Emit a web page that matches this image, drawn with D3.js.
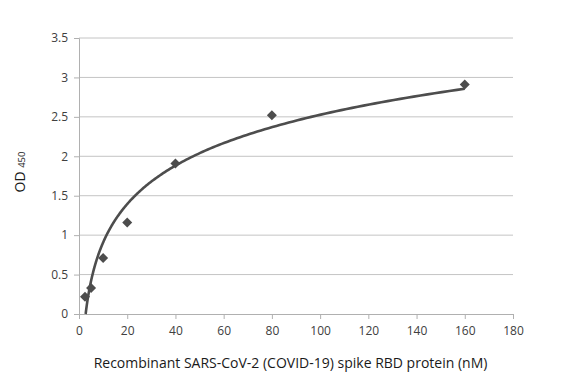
<!DOCTYPE html>
<html>
<head>
<meta charset="utf-8">
<script src="https://cdn.jsdelivr.net/npm/d3@7"></script>
<style>
  body { margin: 0; background: #fff; }
  text { font-family: "Open Sans", sans-serif; }
</style>
</head>
<body>
<svg id="canvas"></svg>
<script>
// concentrations (nM) and OD450 readings
let conc = [2.5, 5, 10, 20, 40, 80, 160]
let od = [0.22, 0.33, 0.71, 1.16, 1.91, 2.52, 2.91]

let xTicks = [0, 20, 40, 60, 80, 100, 120, 140, 160, 180]
let yTicks = [0, 0.5, 1, 1.5, 2, 2.5, 3, 3.5]

let width = 582
let height = 382
let plotLeft = 79, plotRight = 513, plotTop = 38, plotBottom = 314

let svg = d3.select('#canvas').attr('width', width).attr('height', height)

let xScale = d3.scaleLinear().domain([0, 180]).range([plotLeft, plotRight])
let yScale = d3.scaleLinear().domain([0, 3.5]).range([plotBottom, plotTop])

// horizontal gridlines
svg.append('g')
   .selectAll('line')
   .data(yTicks.slice(1))
   .enter()
   .append('line')
   .attr('x1', plotLeft).attr('x2', plotRight)
   .attr('y1', d => yScale(d)).attr('y2', d => yScale(d))
   .attr('stroke', '#c4c4c4').attr('stroke-width', 1)

let xAxis = d3.axisBottom(xScale).tickValues(xTicks).tickSize(5).tickPadding(7).tickFormat(d3.format('d'))
let yAxis = d3.axisLeft(yScale).tickValues(yTicks).tickSize(5).tickPadding(6).tickFormat(d => d)

let gx = svg.append('g').attr('transform', 'translate(0,' + plotBottom + ')').call(xAxis)
let gy = svg.append('g').attr('transform', 'translate(' + plotLeft + ',0)').call(yAxis)

;[gx, gy].forEach(g => {
  g.select('.domain').attr('stroke', '#b0b0b0')
  g.selectAll('.tick line').attr('stroke', '#b0b0b0')
  g.selectAll('.tick text').attr('fill', '#404040').style('font-size', '12px')
})

// logarithmic trendline fitted to the points (least squares on ln x)
let lx = conc.map(Math.log)
let mx = d3.mean(lx), my = d3.mean(od)
let a = d3.sum(lx, (v, i) => (v - mx) * (od[i] - my)) / d3.sum(lx, v => (v - mx) * (v - mx))
let b = my - a * mx
let xStart = Math.max(conc[0], Math.exp(-b / a))
let curve = d3.range(0, 201).map(i => {
  let x = xStart * Math.pow(conc[conc.length - 1] / xStart, i / 200)
  return [x, a * Math.log(x) + b]
})

svg.append('path')
   .datum(curve)
   .attr('d', d3.line().x(d => xScale(d[0])).y(d => yScale(d[1])))
   .attr('fill', 'none')
   .attr('stroke', '#4d4d4d')
   .attr('stroke-width', 2.6)

// diamond markers
svg.append('g')
   .selectAll('path')
   .data(conc)
   .enter()
   .append('path')
   .attr('d', d3.symbol().type(d3.symbolSquare).size(50))
   .attr('transform', (d, i) => 'translate(' + xScale(d) + ',' + yScale(od[i]) + ') rotate(45)')
   .attr('fill', '#4d4d4d')

// axis titles
svg.append('text')
   .attr('x', 290.5).attr('y', 368)
   .attr('text-anchor', 'middle')
   .attr('fill', '#1a1a1a')
   .style('font-size', '14px')
   .text('Recombinant SARS-CoV-2 (COVID-19) spike RBD protein (nM)')

let yt = svg.append('text')
   .attr('transform', 'translate(25,172) rotate(-90)')
   .attr('text-anchor', 'middle')
   .attr('fill', '#1a1a1a')
   .style('font-size', '14px')
yt.append('tspan').text('OD ')
yt.append('tspan').style('font-size', '9.5px').text('450')
</script>
</body>
</html>
